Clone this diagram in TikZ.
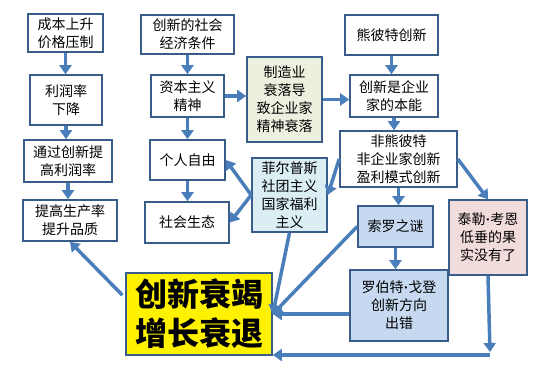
\documentclass[tikz,border=0pt]{standalone}
\usepackage{fontspec}
\setmainfont{Noto Sans CJK SC}
\newfontfamily\dotfont{Liberation Serif}
\usepackage{xcolor}
\usetikzlibrary{arrows.meta}

\definecolor{boxline}{HTML}{385D8A}
\definecolor{arrowblue}{HTML}{4A7EBB}
\definecolor{greenfill}{HTML}{EBF1DE}
\definecolor{cyanfill}{HTML}{DBEEF4}
\definecolor{bluefill}{HTML}{C6D9F1}
\definecolor{pinkfill}{HTML}{F2DCDB}
\newcommand{\mdot}{{\dotfont\textbf{·}}}

\begin{document}
\begin{tikzpicture}[x=1pt,y=-1pt,
  box/.style={draw=boxline,line width=1.6pt,align=center,inner sep=2pt,
              font=\fontsize{14}{18}\selectfont},
  plain/.style={box,fill=white},
  manu/.style={box,fill=greenfill},
  phel/.style={box,fill=cyanfill},
  solo/.style={box,fill=bluefill},
  cown/.style={box,fill=pinkfill},
  big/.style={box,fill=yellow,font=\fontsize{32}{39}\selectfont\bfseries},
  ar/.style={-{Triangle[length=9pt,width=12pt]},line width=3.5pt,draw=arrowblue}
]
\useasboundingbox (0,0) rectangle (537,370);

% left column
\node[plain,minimum width=75pt,minimum height=38pt] (cost) at (65.5,33) {成本上升\\价格压制};
\node[plain,minimum width=72pt,minimum height=50pt] (profit) at (66,100) {利润率\\下降};
\node[plain,minimum width=88pt,minimum height=42pt] (raise) at (68,161) {通过创新提\\高利润率};
\node[plain,minimum width=94pt,minimum height=41pt] (prod) at (70,220.5) {提高生产率\\提升品质};

% middle column
\node[plain,minimum width=93pt,minimum height=39pt] (cond) at (187.5,34.5) {创新的社会\\经济条件};
\node[plain,minimum width=73pt,minimum height=42pt] (spirit) at (187.5,96) {资本主义\\精神};
\node[plain,minimum width=75pt,minimum height=40pt] (freedom) at (187.5,160) {个人自由};
\node[plain,minimum width=84pt,minimum height=41pt] (ecology) at (187,222.5) {社会生态};
\node[manu,minimum width=75pt,minimum height=85pt] (manuf) at (284.5,99.5) {制造业\\衰落导\\致企业家\\精神衰落};
\node[phel,minimum width=75pt,minimum height=74pt] (phelps) at (289.5,195) {菲尔普斯\\社团主义\\国家福利\\主义};

% right column
\node[plain,minimum width=93pt,minimum height=40pt] (schump) at (391.5,35) {熊彼特创新};
\node[plain,minimum width=88pt,minimum height=42pt] (instinct) at (394,96) {创新是企业\\家的本能};
\node[plain,minimum width=117pt,minimum height=56pt] (nonschump) at (398.5,159) {非熊彼特\\非企业家创新\\盈利模式创新};
\node[solo,minimum width=75pt,minimum height=41pt] (solow) at (395.5,226.5) {索罗之谜};
\node[solo,minimum width=98pt,minimum height=71pt] (gordon) at (399,305.5) {罗伯特\mdot 戈登\\创新方向\\出错};
\node[cown,minimum width=78pt,minimum height=75pt] (cowen) at (488,237.5) {泰勒\mdot 考恩\\低垂的果\\实没有了};

\node[big,minimum width=146pt,minimum height=82pt] (decline) at (199,314) {创新衰竭\\增长衰退};
\coordinate (turn) at (490,355);

\draw[ar] (cost) -- (cost |- profit.north);
\draw[ar] (profit) -- (profit |- raise.north);
\draw[ar] (raise.south) -- (raise.south |- prod.north);
\draw[ar] (cond) -- (cond |- spirit.north);
\draw[ar] (spirit) -- (spirit |- freedom.north);
\draw[ar] (freedom) -- (freedom |- ecology.north);
\draw[ar] (spirit) -- (spirit -| manuf.west);
\draw[ar] (manuf) -- (manuf -| instinct.west);
\draw[ar] (schump) -- (schump |- instinct.north);
\draw[ar] (instinct) -- (instinct |- nonschump.north);
\draw[ar] (nonschump) -- (nonschump |- solow.north);
\draw[ar] (solow) -- (solow |- gordon.north);
\draw[ar] (nonschump.west) -- (phelps.east);
\draw[ar] (nonschump.east) -- (cowen.north);
\draw[ar] (phelps.west) -- (freedom.east);
\draw[ar] (phelps.west) -- (ecology.east);
\draw[ar] (phelps.south) -- (decline.east);
\draw[ar] (solow.west) -- (decline.east);
\draw[ar] (gordon.west |- decline.east) -- (decline.east);
\draw[ar] (cowen.south) -- ([yshift=3pt]turn);
\draw[ar] (turn) -- (turn -| decline.east);
\draw[ar,shorten <=4pt] ([yshift=16pt]decline.west) -- (prod.south);
\end{tikzpicture}
\end{document}
